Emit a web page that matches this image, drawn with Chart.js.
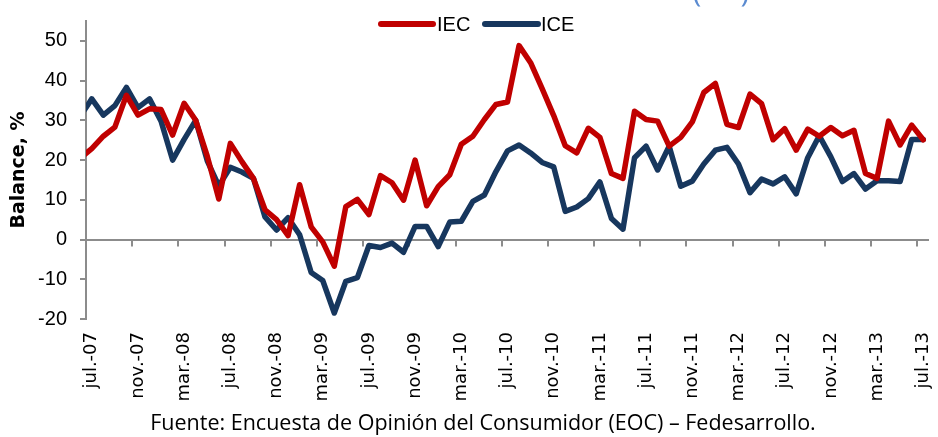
<!DOCTYPE html>
<html>
<head>
<meta charset="utf-8">
<script src="https://cdn.jsdelivr.net/npm/chart.js@4.4.1/dist/chart.umd.min.js"></script>
<style>
  html, body { margin: 0; padding: 0; background: #fff; }
  #wrap { width: 938px; height: 437px; }
</style>
</head>
<body>
<div id="wrap"><canvas id="grafico" width="938" height="437"></canvas></div>
<script>
// meses (jun.-07 solo entra cortado por el eje)
const meses = [
  'jun.-07', 'jul.-07', 'ago.-07', 'sep.-07', 'oct.-07', 'nov.-07', 'dic.-07',
  'ene.-08', 'feb.-08', 'mar.-08', 'abr.-08', 'may.-08', 'jun.-08', 'jul.-08', 'ago.-08', 'sep.-08', 'oct.-08', 'nov.-08', 'dic.-08',
  'ene.-09', 'feb.-09', 'mar.-09', 'abr.-09', 'may.-09', 'jun.-09', 'jul.-09', 'ago.-09', 'sep.-09', 'oct.-09', 'nov.-09', 'dic.-09',
  'ene.-10', 'feb.-10', 'mar.-10', 'abr.-10', 'may.-10', 'jun.-10', 'jul.-10', 'ago.-10', 'sep.-10', 'oct.-10', 'nov.-10', 'dic.-10',
  'ene.-11', 'feb.-11', 'mar.-11', 'abr.-11', 'may.-11', 'jun.-11', 'jul.-11', 'ago.-11', 'sep.-11', 'oct.-11', 'nov.-11', 'dic.-11',
  'ene.-12', 'feb.-12', 'mar.-12', 'abr.-12', 'may.-12', 'jun.-12', 'jul.-12', 'ago.-12', 'sep.-12', 'oct.-12', 'nov.-12', 'dic.-12',
  'ene.-13', 'feb.-13', 'mar.-13', 'abr.-13', 'may.-13', 'jun.-13', 'jul.-13'
];

const iec = [
  20.5, 22.9, 26, 28.3, 36.3, 31.3, 32.9,
  32.7, 26.3, 34.3, 30, 21, 10.2, 24.2, 19.6, 15.4, 7.5, 5, 1,
  13.8, 3.2, -0.6, -6.7, 8.3, 10.1, 6.3, 16.1, 14.3, 9.9, 20, 8.5,
  13.3, 16.3, 24, 26, 30.2, 34, 34.6, 48.8, 44.5, 38, 31.2, 23.6,
  21.8, 28, 25.7, 16.6, 15.4, 32.3, 30.2, 29.8, 23.5, 25.7, 29.6, 37,
  39.3, 29, 28.2, 36.6, 34.2, 25.1, 27.9, 22.5, 27.8, 26, 28.2, 26.1,
  27.5, 16.6, 15.4, 29.8, 23.8, 28.8, 25.1
];

const ice = [
  31, 35.4, 31.3, 33.7, 38.3, 33.2, 35.4,
  29.8, 20, 25.2, 30, 19.8, 13.5, 18.2, 17, 15.4, 5.7, 2.4, 5.5,
  1.2, -8.3, -10.3, -18.5, -10.5, -9.6, -1.5, -2, -0.9, -3.2, 3.3, 3.3,
  -1.8, 4.4, 4.6, 9.6, 11.2, 17.1, 22.3, 23.8, 21.8, 19.4, 18.3, 7.1,
  8.2, 10.3, 14.5, 5.3, 2.6, 20.6, 23.5, 17.5, 23.5, 13.4, 14.7, 19,
  22.5, 23.2, 19, 11.8, 15.2, 14, 15.8, 11.5, 20.6, 26.1, 20.8, 14.6,
  16.6, 12.7, 14.8, 14.8, 14.6, 25.2, 25.2
];

const ticksY = [-20, -10, 0, 10, 20, 30, 40, 50];
const fuente = 'Fuente: Encuesta de Opinión del Consumidor (EOC) – Fedesarrollo.';

const GRIS = '#8c8c8c';

// cada mes va centrado en su celda: jul.-07 ocupa de 0 a 1
const puntos = serie => serie.map((v, k) => ({ x: k - 0.5, y: v }));

// marcas del eje x sobre la linea del cero, leyenda, fuente
const extras = {
  id: 'extras',
  beforeDatasetsDraw(chart) {
    const { ctx, scales: { x, y } } = chart;
    const y0 = y.getPixelForValue(0);
    ctx.save();
    ctx.strokeStyle = GRIS;
    ctx.lineWidth = 2;
    x.ticks.forEach(t => {
      const px = Math.round(x.getPixelForValue(t.value - 0.5));
      ctx.beginPath();
      ctx.moveTo(px, y0);
      ctx.lineTo(px, y0 + 7);
      ctx.stroke();
    });
    ctx.restore();
  },
  afterDraw(chart) {
    const ctx = chart.ctx;
    ctx.save();
    ctx.font = '20px "Liberation Sans", Arial, sans-serif';
    ctx.textBaseline = 'middle';
    ctx.lineCap = 'round';
    const pos = [[381, 433, 437], [485, 538, 541]];
    chart.data.datasets.forEach((ds, i) => {
      const [a, b, t] = pos[i];
      ctx.strokeStyle = ds.borderColor;
      ctx.lineWidth = 6;
      ctx.beginPath();
      ctx.moveTo(a, 24);
      ctx.lineTo(b, 24);
      ctx.stroke();
      ctx.fillStyle = '#000';
      ctx.fillText(ds.label, t, 25);
    });
    ctx.font = '21.5px "Open Sans", sans-serif';
    ctx.textAlign = 'center';
    ctx.fillText(fuente, 483, 424);
    // parentesis cortado arriba
    ctx.fillStyle = '#5b8bd0';
    ctx.font = '30px "Open Sans", sans-serif';
    ctx.textBaseline = 'alphabetic';
    ctx.fillText('(', 697, 2);
    ctx.fillText(')', 745, 2);
    ctx.restore();
  }
};

new Chart(document.getElementById('grafico'), {
  type: 'line',
  data: {
    datasets: [
      { label: 'IEC', data: puntos(iec), borderColor: '#c00000', backgroundColor: '#c00000' },
      { label: 'ICE', data: puntos(ice), borderColor: '#17375e', backgroundColor: '#17375e' }
    ]
  },
  options: {
    responsive: false,
    animation: false,
    layout: { padding: { top: 21, right: 9, left: 0, bottom: 0 } },
    plugins: { legend: { display: false }, tooltip: { enabled: false } },
    elements: {
      point: { radius: 0 },
      line: { borderWidth: 5.5, tension: 0, borderCapStyle: 'round', borderJoinStyle: 'round' }
    },
    datasets: { line: { clip: { left: 0, top: false, right: false, bottom: false } } },
    scales: {
      x: {
        type: 'linear',
        min: 0,
        max: 73,
        afterBuildTicks: s => {
          const t = [];
          for (let v = 0; v < meses.length - 1; v += 4) t.push({ value: v + 0.5 });
          s.ticks = t;
        },
        afterFit: s => {
          s.height = 118;
          s.paddingLeft = 0;
          s.paddingRight = 0;
        },
        grid: { display: false, drawTicks: false },
        border: { display: false },
        ticks: {
          autoSkip: false,
          minRotation: 90,
          maxRotation: 90,
          padding: 13,
          color: '#000',
          font: { family: '"DejaVu Sans", Verdana, sans-serif', size: 18 },
          callback: v => meses[Math.round(v + 0.5)]
        }
      },
      y: {
        min: -20,
        max: 55,
        afterBuildTicks: s => { s.ticks = ticksY.map(v => ({ value: v })); },
        afterFit: s => {
          s.width = 86;
          s.paddingTop = 0;
          s.paddingBottom = 0;
        },
        border: { display: true, color: GRIS, width: 2 },
        grid: {
          drawOnChartArea: true,
          color: c => (c.tick && c.tick.value === 0 ? GRIS : 'rgba(0,0,0,0)'),
          tickColor: GRIS,
          lineWidth: 2,
          tickLength: 6
        },
        ticks: {
          padding: 13,
          color: '#000',
          font: { family: '"Liberation Sans", Arial, sans-serif', size: 20 }
        },
        title: {
          display: true,
          text: 'Balance, %',
          color: '#000',
          font: { family: '"DejaVu Sans", Verdana, sans-serif', size: 19, weight: 'bold' },
          padding: { top: 8, bottom: 0 }
        }
      }
    }
  },
  plugins: [extras]
});
</script>
</body>
</html>
